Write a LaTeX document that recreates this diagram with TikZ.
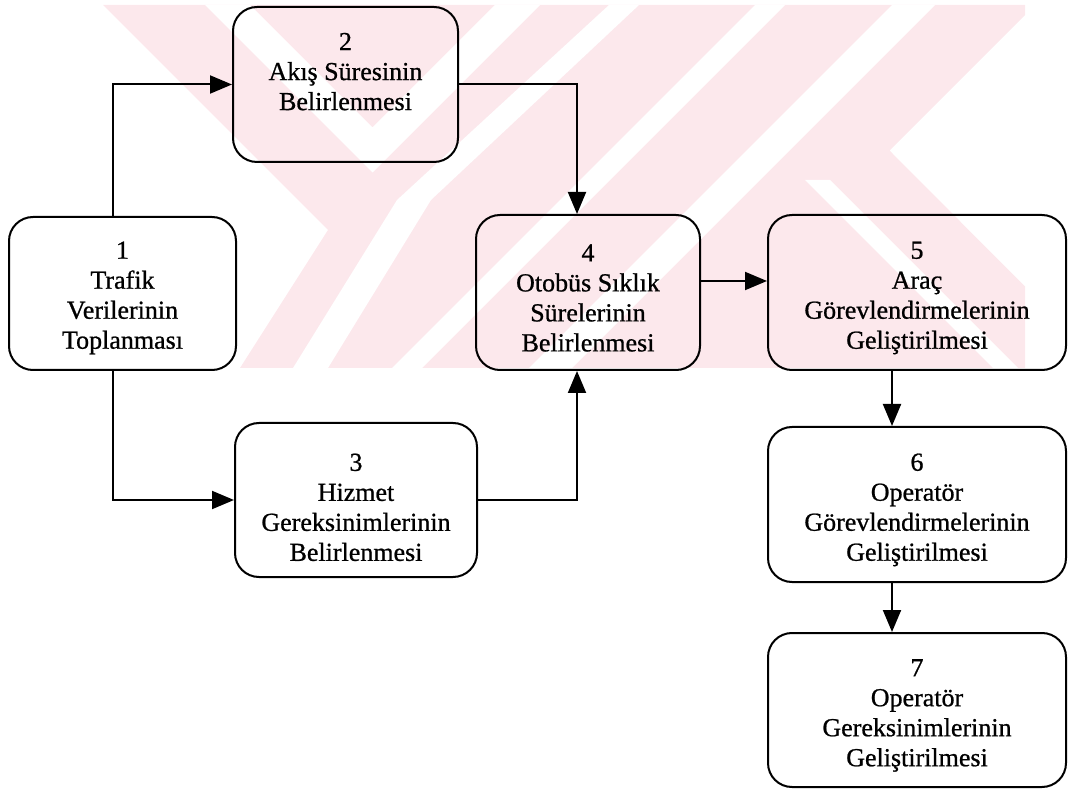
\documentclass[tikz,border=0pt]{standalone}
\usepackage{fontspec}
\setmainfont{Liberation Serif}[RawFeature={embolden=0.8}]
\usetikzlibrary{arrows.meta}
\definecolor{wm}{RGB}{252,232,236}
\begin{document}
\begin{tikzpicture}[x=1pt,y=-1pt,
  box/.style={draw,line width=2pt,rounded corners=24pt,align=center,
    font=\fontsize{26}{30}\selectfont,inner sep=0pt},
  arr/.style={line width=2pt,-{Triangle[length=22pt,width=18pt]}},
  wmfill/.style={fill=wm},
  wmgap/.style={fill=white}]
\useasboundingbox (0,0) rectangle (1069,791);
% faint watermark behind the chart
\begin{scope}
\clip (50,5) rectangle (1025,368);
\fill[wmfill] (103,5) -- (1035,5) -- (889.5,150.5) -- (1025,286.5) -- (1025,368) -- (240,368) -- (328,230) -- cycle;
\fill[wmgap] (205,5) -- (250,5) -- (372.5,127.5) -- (495,5) -- (540,5) -- (372.5,172.5) -- cycle;
\fill[wmgap] (609,5) -- (639,5) -- (431,200) -- (328,368) -- (293,368) -- (397,200) -- cycle;
\fill[wmgap] (755,5) -- (785,5) -- (417,373) -- (387,373) -- cycle;
\fill[wmgap] (892,5) -- (935,5) -- (567,373) -- (524,373) -- cycle;
\fill[wmgap] (805,180) -- (830,180) -- (1023,373) -- (998,373) -- cycle;
\end{scope}

\node[box,minimum width=227pt,minimum height=153pt] (b1) at (122.5,293.5) {\mbox{}\\[-4pt]1\\Trafik\\Verilerinin\\Toplanması};
\node[box,minimum width=225pt,minimum height=155pt] (b2) at (345.5,84.5) {2\\Akış Süresinin\\Belirlenmesi\\[-4pt]\mbox{}};
\node[box,minimum width=242pt,minimum height=154pt] (b3) at (356,500) {\mbox{}\\[2pt]3\\Hizmet\\Gereksinimlerinin\\Belirlenmesi};
\node[box,minimum width=224pt,minimum height=155pt] (b4) at (588,292.5) {\mbox{}\\[-2pt]4\\Otobüs Sıklık\\Sürelerinin\\Belirlenmesi};
\node[box,minimum width=298pt,minimum height=155pt] (b5) at (917,292.5) {\mbox{}\\[-2pt]5\\Araç\\Görevlendirmelerinin\\Geliştirilmesi};
\node[box,minimum width=298pt,minimum height=155pt] (b6) at (917,504.5) {\mbox{}\\[-2pt]6\\Operatör\\Görevlendirmelerinin\\Geliştirilmesi};
\node[box,minimum width=298pt,minimum height=154pt] (b7) at (917,710) {\mbox{}\\[-2pt]7\\Operatör\\Gereksinimlerinin\\Geliştirilmesi};

\draw[arr] ([xshift=-9.5pt]b1.north) |- (b2.west);
\draw[arr] ([xshift=-9.5pt]b1.south) |- (b3.west);
\draw[arr] (b2.east) -| ([xshift=-11pt]b4.north);
\draw[arr] (b3.east) -| ([xshift=-11pt]b4.south);
\draw[arr] ([yshift=11.5pt]b4.east) -- ([yshift=11.5pt]b5.west);
\draw[arr] ([xshift=-25pt]b5.south) -- ([xshift=-25pt]b6.north);
\draw[arr] ([xshift=-25pt]b6.south) -- ([xshift=-25pt]b7.north);
\end{tikzpicture}
\end{document}
